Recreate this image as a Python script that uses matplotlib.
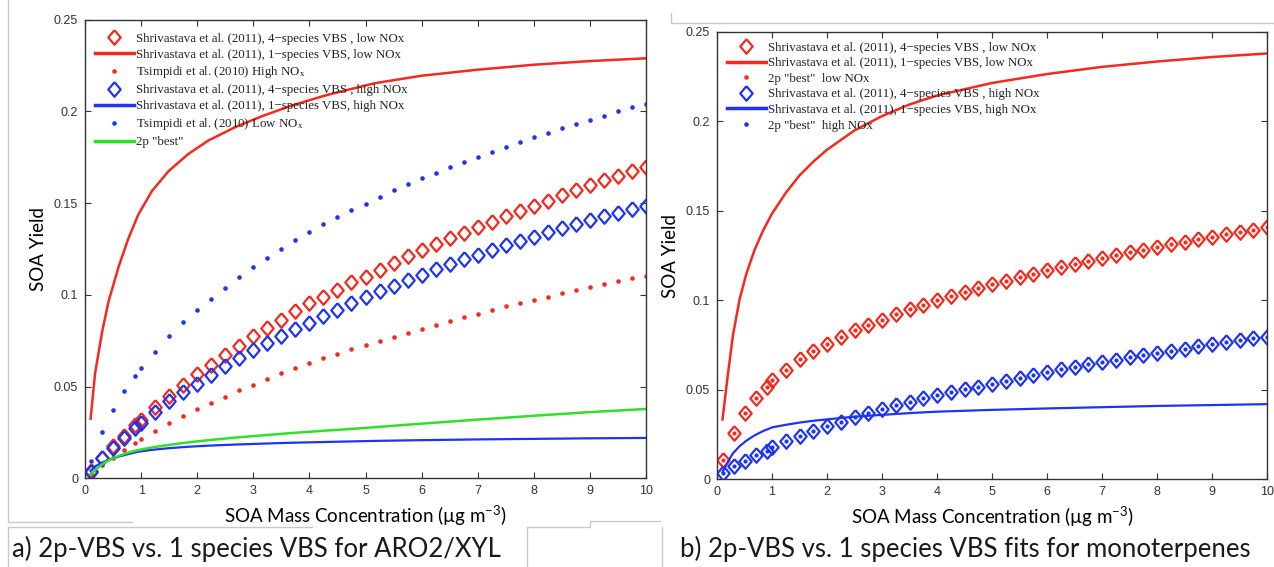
import numpy as np
import matplotlib.pyplot as plt
from matplotlib.lines import Line2D

plt.rcParams['mathtext.fontset'] = 'custom'
plt.rcParams['mathtext.rm'] = 'Lato'
plt.rcParams['mathtext.it'] = 'Lato:italic'

# x positions of the sampled points (both panels)
conc = [0.1, 0.3, 0.5, 0.7, 0.9, 1.0, 1.25, 1.5, 1.75, 2.0, 2.25, 2.5, 2.75, 3.0,
        3.25, 3.5, 3.75, 4.0, 4.25, 4.5, 4.75, 5.0, 5.25, 5.5, 5.75, 6.0, 6.25,
        6.5, 6.75, 7.0, 7.25, 7.5, 7.75, 8.0, 8.25, 8.5, 8.75, 9.0, 9.25, 9.5,
        9.75, 10.0]

# a) ARO2/XYL
aro_low_4sp = [0.004, 0.011, 0.0175, 0.023, 0.029, 0.032, 0.039, 0.045, 0.051, 0.057,
               0.062, 0.067, 0.072, 0.0775, 0.082, 0.0865, 0.091, 0.0954, 0.0987, 0.1027,
               0.1068, 0.110, 0.1137, 0.1175, 0.121, 0.1243, 0.128, 0.131, 0.134, 0.137,
               0.140, 0.143, 0.1458, 0.1487, 0.1513, 0.1542, 0.157, 0.160, 0.1627, 0.165,
               0.1677, 0.170]
aro_high_4sp = [0.0035, 0.0108, 0.0167, 0.022, 0.0276, 0.030, 0.0363, 0.042, 0.047, 0.0515,
                0.0563, 0.061, 0.0655, 0.0698, 0.0738, 0.0778, 0.0812, 0.0847, 0.0884, 0.092,
                0.0954, 0.0987, 0.1019, 0.105, 0.108, 0.111, 0.1139, 0.1167, 0.1194, 0.122,
                0.1245, 0.127, 0.1294, 0.1318, 0.1341, 0.1364, 0.1386, 0.1408, 0.1428, 0.1448,
                0.1467, 0.1485]
tsimpidi_high = [0.0025, 0.007, 0.011, 0.0155, 0.0195, 0.0213, 0.026, 0.030, 0.034, 0.0376,
                 0.0412, 0.0445, 0.0481, 0.0509, 0.054, 0.0573, 0.060, 0.0627, 0.0654, 0.0678,
                 0.0703, 0.0727, 0.0749, 0.0771, 0.0793, 0.0815, 0.0836, 0.0857, 0.0878, 0.0898,
                 0.0918, 0.0937, 0.0955, 0.0973, 0.0991, 0.1008, 0.1025, 0.1042, 0.1058, 0.1074,
                 0.109, 0.1105]
tsimpidi_low = [0.0097, 0.0253, 0.0374, 0.0474, 0.056, 0.060, 0.069, 0.0775, 0.085, 0.0918,
                0.098, 0.104, 0.1095, 0.115, 0.120, 0.125, 0.1298, 0.1343, 0.1385, 0.1425,
                0.1463, 0.1498, 0.1535, 0.157, 0.1604, 0.1635, 0.1667, 0.1697, 0.1726, 0.1754,
                0.1781, 0.1808, 0.1834, 0.1859, 0.1884, 0.1908, 0.1932, 0.1955, 0.1978, 0.200,
                0.2022, 0.2043]

aro_line_x = [0.1, 0.18, 0.3, 0.42, 0.6, 0.77, 0.95, 1.19, 1.49, 1.84, 2.2, 2.68, 3.16,
              3.69, 4.29, 4.88, 5.18, 6.0, 7.0, 8.0, 9.0, 10.0]
aro_low_1sp = [0.0325, 0.0573, 0.079, 0.0965, 0.1154, 0.1305, 0.1438, 0.1565, 0.1675, 0.1768,
               0.1842, 0.1915, 0.1975, 0.2033, 0.2088, 0.2133, 0.2155, 0.2195, 0.2228, 0.2255,
               0.2275, 0.229]
aro_high_1sp = [0.004, 0.0065, 0.0085, 0.010, 0.0118, 0.0132, 0.0145, 0.0155, 0.0164, 0.0172,
                0.0178, 0.0184, 0.0189, 0.0194, 0.0198, 0.0202, 0.0204, 0.0208, 0.0212, 0.0215,
                0.0218, 0.022]
aro_2p_best = [0.002, 0.0045, 0.0075, 0.0098, 0.0122, 0.0140, 0.0154, 0.0168, 0.0182, 0.0196,
               0.0208, 0.0222, 0.0234, 0.0247, 0.026, 0.0272, 0.0279, 0.0298, 0.032, 0.0341,
               0.0361, 0.0378]

# b) monoterpenes
mono_low_4sp = [0.011, 0.026, 0.037, 0.0455, 0.0517, 0.0554, 0.0613, 0.067, 0.0717, 0.0758,
                0.0796, 0.0833, 0.0862, 0.0892, 0.0922, 0.095, 0.0975, 0.100, 0.1022, 0.1045,
                0.1067, 0.1089, 0.111, 0.113, 0.1149, 0.1168, 0.1186, 0.1203, 0.122, 0.1236,
                0.1252, 0.1268, 0.1283, 0.1298, 0.1313, 0.1327, 0.1341, 0.1355, 0.1369, 0.1382,
                0.1395, 0.1408]
mono_high_4sp = [0.0034, 0.0074, 0.0104, 0.0136, 0.016, 0.018, 0.0212, 0.0242, 0.027, 0.0296,
                 0.0322, 0.0346, 0.0371, 0.0394, 0.0415, 0.0434, 0.0452, 0.047, 0.0486, 0.0502,
                 0.0518, 0.0535, 0.0552, 0.0568, 0.0584, 0.0599, 0.0614, 0.0628, 0.0642, 0.0656,
                 0.0669, 0.0682, 0.0695, 0.0707, 0.0719, 0.0731, 0.0743, 0.0755, 0.0766, 0.0777,
                 0.0787, 0.0797]
mono_best_low = mono_low_4sp
mono_best_high = mono_high_4sp

mono_line_x = [0.1, 0.2, 0.29, 0.41, 0.53, 0.68, 0.84, 1.0, 1.26, 1.5, 1.75, 2.0, 2.5,
               3.0, 3.5, 4.0, 5.0, 6.0, 7.0, 8.0, 9.0, 10.0]
mono_low_1sp = [0.0335, 0.0591, 0.0805, 0.1005, 0.1145, 0.128, 0.1392, 0.1485, 0.1605, 0.1698,
                0.1775, 0.1842, 0.1950, 0.2030, 0.2095, 0.2145, 0.2215, 0.2265, 0.2305, 0.2335,
                0.236, 0.238]
mono_high_1sp = [0.004, 0.010, 0.0145, 0.0185, 0.0215, 0.0245, 0.027, 0.029, 0.0305, 0.0317,
                 0.0327, 0.0335, 0.035, 0.036, 0.037, 0.0378, 0.0388, 0.0396, 0.0403, 0.041,
                 0.0415, 0.042]

RED = '#f42a1e'
BLUE = '#1e34f0'
GREEN = '#2ee02a'
diamond = [(0, 1), (0.85, 0), (0, -1), (-0.85, 0), (0, 1)]
serif = ['Liberation Serif', 'DejaVu Serif']


def style_axes(ax):
    ax.set_xlim(0, 10)
    ax.set_ylim(0, 0.25)
    ax.set_xticks(range(0, 11))
    ax.set_yticks([0, 0.05, 0.1, 0.15, 0.2, 0.25])
    ax.set_yticklabels(['0', '0.05', '0.1', '0.15', '0.2', '0.25'])
    ax.tick_params(direction='in', top=True, right=True, length=4, width=0.8,
                   color='#333333', labelsize=9, labelcolor='#333333', pad=5)
    for lab in ax.get_xticklabels() + ax.get_yticklabels():
        lab.set_family('Liberation Sans')
    for sp in ax.spines.values():
        sp.set_color('#333333')
        sp.set_linewidth(1.0)
    ax.set_xlabel('SOA Mass Concentration (µg m$^{-3}$)', family='Lato', fontsize=13.5,
                  labelpad=5)
    ax.set_ylabel('SOA Yield', family='Lato', fontsize=13.5, labelpad=5)


def add_legend(ax, handles, labels, anchor, spacing):
    leg = ax.legend(handles, labels, loc='upper left', bbox_to_anchor=anchor,
                    frameon=False, prop={'family': serif, 'size': 9.3},
                    handlelength=3.0, handletextpad=0.2, labelspacing=spacing,
                    borderpad=0, borderaxespad=0)
    for t in leg.get_texts():
        t.set_math_fontfamily('stix')
        t.set_color('#222222')
    return leg


fig = plt.figure(figsize=(12.74, 5.67), dpi=100)
ax1 = fig.add_axes([85 / 1274, (567 - 478.3) / 567, 561 / 1274, 458.5 / 567])
ax2 = fig.add_axes([717 / 1274, (567 - 479.3) / 567, 550 / 1274, 447.3 / 567])

# panel a
ax1.plot(conc, aro_low_4sp, linestyle='none', marker=diamond, ms=10.5, mfc='none',
         mec=RED, mew=1.6)
ax1.plot(aro_line_x, aro_low_1sp, color=RED, lw=1.8)
ax1.plot(conc, tsimpidi_high, linestyle='none', marker='o', ms=3.3, mfc=RED, mec='none')
ax1.plot(conc, aro_high_4sp, linestyle='none', marker=diamond, ms=10.5, mfc='none',
         mec=BLUE, mew=1.6)
ax1.plot(aro_line_x, aro_high_1sp, color=BLUE, lw=1.6)
ax1.plot(conc, tsimpidi_low, linestyle='none', marker='o', ms=3.3, mfc=BLUE, mec='none')
ax1.plot(aro_line_x, aro_2p_best, color=GREEN, lw=1.8)
style_axes(ax1)

h1 = [Line2D([], [], ls='none', marker=diamond, ms=10.5, mfc='none', mec=RED, mew=1.6),
      Line2D([], [], color=RED, lw=2.5),
      Line2D([], [], ls='none', marker='o', ms=3.3, mfc=RED, mec='none'),
      Line2D([], [], ls='none', marker=diamond, ms=10.5, mfc='none', mec=BLUE, mew=1.6),
      Line2D([], [], color=BLUE, lw=2.5),
      Line2D([], [], ls='none', marker='o', ms=3.3, mfc=BLUE, mec='none'),
      Line2D([], [], color=GREEN, lw=2.5)]
l1 = ['Shrivastava et al. (2011), 4\u2212species VBS , low NOx',
      'Shrivastava et al. (2011), 1\u2212species VBS, low NOx',
      'Tsimpidi et al. (2010) High NO$_\\mathrm{x}$',
      'Shrivastava et al. (2011), 4\u2212species VBS , high NOx',
      'Shrivastava et al. (2011), 1\u2212species VBS, high NOx',
      'Tsimpidi et al. (2010) Low NO$_\\mathrm{x}$',
      '2p "best"']
add_legend(ax1, h1, l1, (0.018, 0.972), 0.3)

# panel b
ax2.plot(conc, mono_low_4sp, linestyle='none', marker=diamond, ms=10.5, mfc='none',
         mec=RED, mew=1.6)
ax2.plot(mono_line_x, mono_low_1sp, color=RED, lw=1.8)
ax2.plot(conc, mono_best_low, linestyle='none', marker='o', ms=3.0, mfc=RED, mec='none')
ax2.plot(conc, mono_high_4sp, linestyle='none', marker=diamond, ms=10.5, mfc='none',
         mec=BLUE, mew=1.6)
ax2.plot(mono_line_x, mono_high_1sp, color=BLUE, lw=1.6)
ax2.plot(conc, mono_best_high, linestyle='none', marker='o', ms=3.0, mfc=BLUE, mec='none')
style_axes(ax2)

h2 = h1[:6]
l2 = ['Shrivastava et al. (2011), 4\u2212species VBS , low NOx',
      'Shrivastava et al. (2011), 1\u2212species VBS, low NOx',
      '2p "best"  low NOx',
      'Shrivastava et al. (2011), 4\u2212species VBS , high NOx',
      'Shrivastava et al. (2011), 1\u2212species VBS, high NOx',
      '2p "best"  high NOx']
add_legend(ax2, h2, l2, (0.018, 0.978), 0.27)

# slide frame remnants
gray = '#c8c8c8'
def frame_line(xs, ys):
    fig.add_artist(Line2D([x / 1274 for x in xs], [1 - y / 567 for y in ys],
                          color=gray, lw=1.0))

frame_line([8, 8, 132], [0, 522, 522])
frame_line([8, 8, 312], [567, 527, 527])
frame_line([527, 527, 590, 590, 660], [567, 527, 527, 521, 521])
frame_line([671, 671, 1274], [13, 23, 23])
frame_line([662, 662], [527, 567])

fig.text(12 / 1274, 1 - 549 / 567, 'a) 2p-VBS vs. 1 species VBS for ARO2/XYL',
         family='Lato', fontsize=18.5, va='center', ha='left', color='#1a1a1a')
fig.text(680 / 1274, 1 - 549 / 567, 'b) 2p-VBS vs. 1 species VBS fits for monoterpenes',
         family='Lato', fontsize=18.5, va='center', ha='left', color='#1a1a1a')

fig.savefig('out.png', dpi=100)
